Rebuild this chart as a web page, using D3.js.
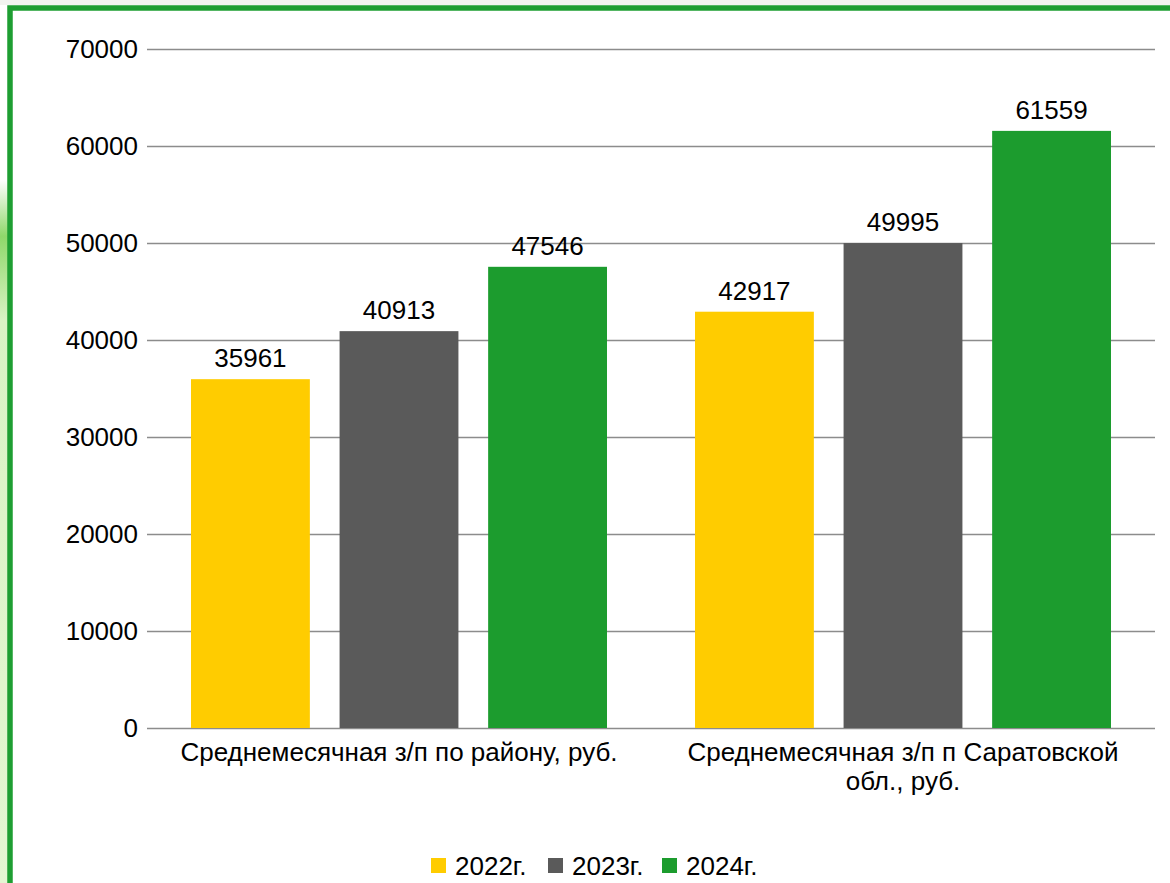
<!DOCTYPE html>
<html>
<head>
<meta charset="utf-8">
<script src="https://d3js.org/d3.v7.min.js"></script>
<style>
  body { margin: 0; background: #fff; }
  svg text { font-family: "Liberation Sans", Arial, sans-serif; fill: #000; }
  .grid line { stroke: #8c8c8c; stroke-width: 1.5; }
  .grid path { display: none; }
</style>
</head>
<body>
<div id="chart"></div>
<script>
// данные
const categories = ["Среднемесячная з/п по району, руб.", "Среднемесячная з/п п Саратовской обл., руб."];
const years = ["2022г.", "2023г.", "2024г."];
const values2022 = [35961, 42917];
const values2023 = [40913, 49995];
const values2024 = [47546, 61559];
const yTicks = [0, 10000, 20000, 30000, 40000, 50000, 60000, 70000];
const colors = ["#ffcc00", "#5a5a5a", "#1c9c2e"];

const W = 1170, H = 883;
const plot = { left: 147, right: 1155, top: 49, bottom: 728 };
const fs = 26;

const svg = d3.select("#chart").append("svg")
    .attr("width", W).attr("height", H);

// фон и рамка
const defs = svg.append("defs");
const grad = defs.append("linearGradient").attr("id", "glow")
    .attr("x1", 0).attr("y1", 0).attr("x2", 0).attr("y2", 1);
grad.append("stop").attr("offset", "0%").attr("stop-color", "#ffffff");
grad.append("stop").attr("offset", "8%").attr("stop-color", "#8fd86a");
grad.append("stop").attr("offset", "20%").attr("stop-color", "#d9f3c4");
grad.append("stop").attr("offset", "100%").attr("stop-color", "#e4f6d2");
svg.append("rect").attr("x", 0).attr("y", 180).attr("width", 8).attr("height", H - 180)
    .attr("fill", "url(#glow)");
svg.append("rect").attr("x", 0).attr("y", 0).attr("width", W).attr("height", 5)
    .attr("fill", "#f2f4f0");
svg.append("rect").attr("x", 10).attr("y", 8).attr("width", W + 20).attr("height", H + 20)
    .attr("fill", "none").attr("stroke", "#1e9e32").attr("stroke-width", 5.5);

// шкалы
const y = d3.scaleLinear().domain([0, 70000]).range([plot.bottom, plot.top]);
const x0 = d3.scaleBand().domain(categories).range([plot.left, plot.right]).paddingInner(0).paddingOuter(0);
const x1 = d3.scaleBand().domain(years).range([44, x0.bandwidth() - 44]).paddingInner(0.2).paddingOuter(0);

// сетка
svg.append("g").attr("class", "grid")
    .attr("transform", `translate(${plot.left},0)`)
    .call(d3.axisLeft(y).tickValues(yTicks).tickSize(-(plot.right - plot.left)).tickFormat(""));

// подписи оси Y
svg.append("g").selectAll("text").data(yTicks).join("text")
    .attr("x", 138).attr("y", d => y(d) + 9)
    .attr("text-anchor", "end").attr("font-size", fs)
    .text(d => d);

// столбцы
const rows = categories.map((c, i) => years.map((yr, j) => ({
    cat: c, year: yr, j: j, value: [values2022, values2023, values2024][j][i]
})));

const groups = svg.append("g").selectAll("g").data(rows).join("g")
    .attr("transform", (d, i) => `translate(${x0(categories[i])},0)`);

groups.selectAll("rect").data(d => d).join("rect")
    .attr("x", d => x1(d.year))
    .attr("y", d => y(d.value))
    .attr("width", x1.bandwidth())
    .attr("height", d => y(0) - y(d.value))
    .attr("fill", d => colors[d.j]);

groups.selectAll("text").data(d => d).join("text")
    .attr("x", d => x1(d.year) + x1.bandwidth() / 2)
    .attr("y", d => y(d.value) - 12)
    .attr("text-anchor", "middle").attr("font-size", fs)
    .text(d => d.value);

// подписи категорий с переносом
const catLabels = svg.append("g").selectAll("text").data(categories).join("text")
    .attr("x", d => x0(d) + x0.bandwidth() / 2)
    .attr("y", plot.bottom + 33)
    .attr("text-anchor", "middle").attr("font-size", fs);

catLabels.each(function(d) {
    const el = d3.select(this);
    const words = d.split(" ");
    let line = [];
    let tspan = el.append("tspan").attr("x", el.attr("x")).attr("dy", 0);
    words.forEach(w => {
        line.push(w);
        tspan.text(line.join(" "));
        if (tspan.node().getComputedTextLength() > 470 && line.length > 1) {
            line.pop();
            tspan.text(line.join(" "));
            line = [w];
            tspan = el.append("tspan").attr("x", el.attr("x")).attr("dy", 29).text(w);
        }
    });
});

// легенда
const legendX = [431, 548, 662];
const legend = svg.append("g").selectAll("g").data(years).join("g")
    .attr("transform", (d, i) => `translate(${legendX[i]},858)`);
legend.append("rect").attr("width", 15).attr("height", 15)
    .attr("fill", (d, i) => colors[i]);
legend.append("text").attr("x", 24).attr("y", 17)
    .attr("font-size", fs).text(d => d);
</script>
</body>
</html>
